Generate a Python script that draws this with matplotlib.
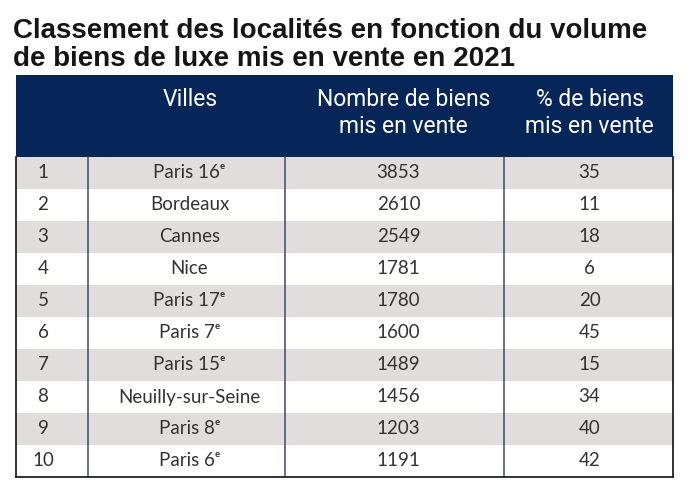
import matplotlib
matplotlib.use("Agg")
import matplotlib.pyplot as plt
from matplotlib.patches import Rectangle

# données du tableau
rangs = [1, 2, 3, 4, 5, 6, 7, 8, 9, 10]
villes = ["Paris 16ᵉ", "Bordeaux", "Cannes", "Nice", "Paris 17ᵉ",
          "Paris 7ᵉ", "Paris 15ᵉ", "Neuilly-sur-Seine", "Paris 8ᵉ", "Paris 6ᵉ"]
nombre_biens = [3853, 2610, 2549, 1781, 1780, 1600, 1489, 1456, 1203, 1191]
pct_biens = [35, 11, 18, 6, 20, 45, 15, 34, 40, 42]
entetes = [[], ["Villes"], ["Nombre de biens", "mis en vente"], ["% de biens", "mis en vente"]]
titre = ["Classement des localités en fonction du volume",
         "de biens de luxe mis en vente en 2021"]

navy = "#062659"
gris = "#e1dddc"
ligne = "#3a4a6b"
texte = "#333333"

police_titre = ["Liberation Sans", "DejaVu Sans"]
police_entete = ["Roboto", "Liberation Sans", "DejaVu Sans"]
police_corps = ["Lato", "DejaVu Sans"]

W, H = 692, 497
fig = plt.figure(figsize=(W / 100, H / 100), dpi=100)
ax = fig.add_axes([0, 0, 1, 1])
ax.set_xlim(0, W)
ax.set_ylim(H, 0)
ax.axis("off")

# mise en page (pixels)
cols = [15.5, 88, 285, 504, 673]
decal_entete = [0, 4, 9, 1]
y_head, y_body, row_h = 75, 157, 32

for k, t in enumerate(titre):
    ax.text(13, 38 + k * 28, t, ha="left", va="baseline",
            family=police_titre, fontweight="bold",
            fontsize=20, color="#151515")

ax.add_patch(Rectangle((cols[0], y_head), cols[-1] - cols[0], y_body - y_head,
                       color=navy, lw=0))
for i, lignes in enumerate(entetes):
    cx = (cols[i] + cols[i + 1]) / 2 + decal_entete[i]
    for k, t in enumerate(lignes):
        ax.text(cx, 106 + k * 27, t, ha="center", va="baseline", color="white",
                family=police_entete, fontweight="normal", fontsize=16.5)

for i, (r, v, n, p) in enumerate(zip(rangs, villes, nombre_biens, pct_biens)):
    y0 = y_body + i * row_h
    if i % 2 == 0:
        ax.add_patch(Rectangle((cols[0], y0), cols[-1] - cols[0], row_h,
                               color=gris, lw=0))
    yc = y0 + row_h / 2
    vals = [str(r), v, str(n), str(p)]
    xs = [43, (cols[1] + cols[2]) / 2 + 3, (cols[2] + cols[3]) / 2 + 4,
          (cols[3] + cols[4]) / 2 + 1]
    for x, s in zip(xs, vals):
        ax.text(x, yc, s, ha="center", va="center", color=texte,
                family=police_corps, fontweight="normal", fontsize=13.5)

y_end = y_body + len(rangs) * row_h
for x in cols[1:-1]:
    ax.plot([x, x], [y_body, y_end], color=ligne, lw=1.1)
for x in (cols[0], cols[-1]):
    ax.plot([x, x], [y_body, y_end], color="#222222", lw=1.3)
ax.plot([cols[0], cols[-1]], [y_end, y_end], color="#222222", lw=1.3)

fig.savefig("out.png", dpi=100)
